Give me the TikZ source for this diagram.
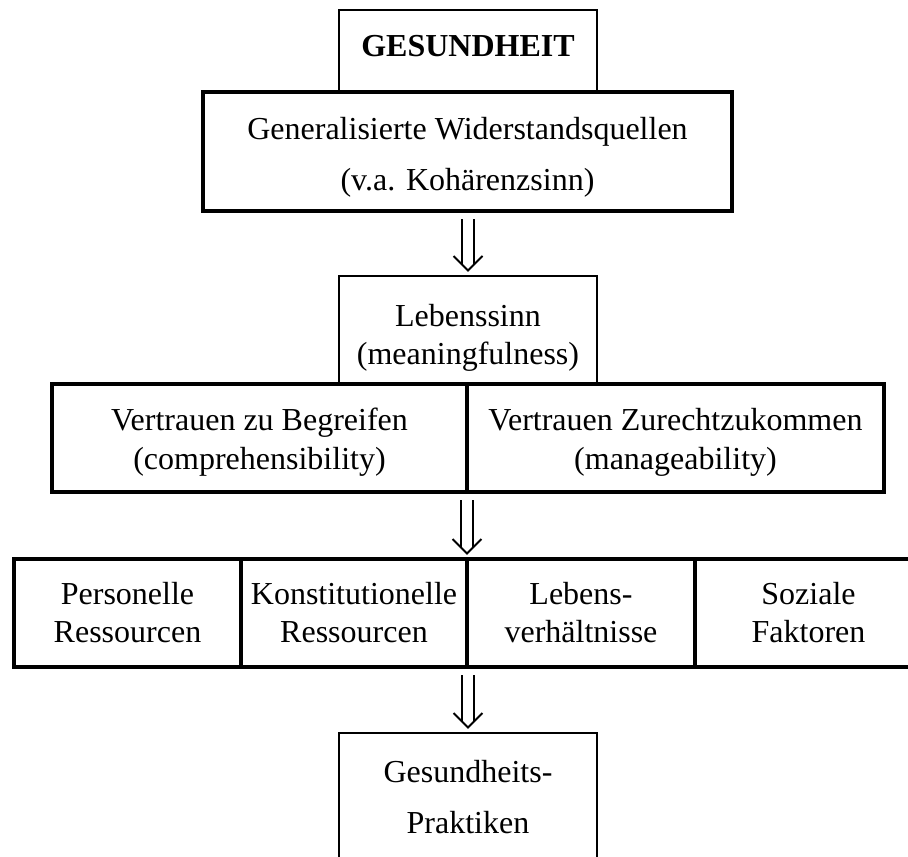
\documentclass[tikz,border=0pt]{standalone}
\usepackage{fontspec}
\setmainfont{Liberation Serif}
\usetikzlibrary{calc}
\tikzset{
  frame/.style={draw, line width=1.2pt, inner sep=0pt, outer sep=0pt},
  heavy/.style={draw, line width=3.5pt, inner sep=0pt, outer sep=0pt},
  body/.style={align=center, inner sep=0pt, font=\fontsize{32}{38}\selectfont},
  wide/.style={body, font=\fontsize{32}{39}\selectfont},
  loose/.style={align=center, inner sep=0pt, font=\fontsize{32}{51}\selectfont},
  arrowline/.style={line width=2pt, line cap=butt, line join=miter},
}
% double-shafted downward arrow from anchor #1 to anchor #2
\newcommand\twinarrow[2]{%
  \draw[arrowline] ($(#2 |- #1)+(-6.3,8)$) -- ($(#2)+(-6.3,-12)$);
  \draw[arrowline] ($(#2 |- #1)+(6.3,8)$) -- ($(#2)+(6.3,-12)$);
  \draw[arrowline] ($(#2)+(-14.5,-20)$) -- ($(#2)+(0,-5.5)$) -- ($(#2)+(14.5,-20)$);
}
\begin{document}
\begin{tikzpicture}[x=1pt,y=-1pt]
\useasboundingbox (0,0) rectangle (908,857);
\clip (0,0) rectangle (908,857);
% thin boxes
\node[frame, minimum width=258pt, minimum height=82pt] (top) at (468,51) {};
\node[inner sep=0pt, font=\fontsize{32}{38}\selectfont\bfseries] (topt) at (468,46) {GESUNDHEIT};
\node[frame, minimum width=258pt, minimum height=108pt] (mean) at (468,330) {};
\node[body] (meant) at (468,338) {Lebenssinn\\(meaningfulness)};
\node[frame, minimum width=258pt, minimum height=160pt] (prax) at (468,813) {};
\node[loose] (praxt) at (468,797) {Gesundheits-\\Praktiken};
% heavy boxes
\node[heavy, minimum width=529pt, minimum height=119pt] (gen) at (467.5,151.5) {};
\node[loose] (gent) at (467.5,157) {Generalisierte Widerstandsquellen\\(v.a. Kohärenzsinn)};
\node[heavy, minimum width=415pt, minimum height=108pt] (comp) at (259.5,438) {};
\node[heavy, minimum width=417pt, minimum height=108pt] (mana) at (675.5,438) {};
\node[wide] (compt) at (259.5,442) {Vertrauen zu Begreifen\\(comprehensibility)};
\node[wide] (manat) at (675.5,442) {Vertrauen Zurechtzukommen\\(manageability)};
\node[heavy, body, minimum width=227pt, minimum height=108pt] (res1) at (127.5,613) {Personelle\\Ressourcen};
\node[heavy, body, minimum width=226pt, minimum height=108pt] (res2) at (354,613) {Konstitutionelle\\Ressourcen};
\node[heavy, body, minimum width=228pt, minimum height=108pt] (res3) at (581,613) {Lebens-\\verhältnisse};
\node[heavy, body, minimum width=227pt, minimum height=108pt] (res4) at (808.5,613) {Soziale\\Faktoren};
% arrows
\twinarrow{gen.south}{mean.north}
\twinarrow{comp.south east}{res2.north east}
\twinarrow{res2.south east}{prax.north}
\end{tikzpicture}
\end{document}
